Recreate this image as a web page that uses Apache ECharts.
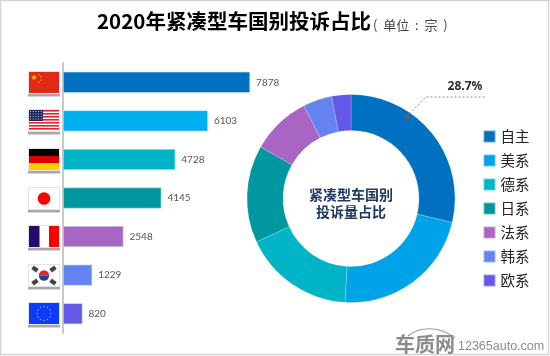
<!DOCTYPE html>
<html><head><meta charset="utf-8">
<style>html,body{margin:0;padding:0;background:#fff}#c{width:550px;height:356px}</style>
<script src="https://cdn.jsdelivr.net/npm/echarts@6/dist/echarts.min.js"></script>
</head><body><div id="c"></div>
<script>
const categories = ['自主','美系','德系','日系','法系','韩系','欧系'];
const values = [7878,6103,4728,4145,2548,1229,820];
const colors = ['#0070c0','#00b0f0','#00b4c8','#0097a0','#a965c4','#6482f0','#6459e6'];
const pieColors = ['#0070c0','#00a3e8','#00b4c8','#0097a0','#a965c4','#6482f0','#6459e6'];
const cjk = '"Noto Sans CJK SC"';
const FX = 29, FW = 30, FH = 21, rowH = 270/7, top0 = 63;

function rect(x,y,w,h,fill,extra){return Object.assign({type:'rect',shape:{x,y,width:w,height:h},style:{fill}},extra||{});}
function circ(cx,cy,r,fill){return {type:'circle',shape:{cx,cy,r},style:{fill}};}
function flag(i, parts){
  const y = Math.round(top0 + rowH*i + rowH/2 - FH/2);
  return {type:'group',x:FX,y:y,silent:true,children:[
    rect(-1,2,FW+2,FH+1.5,'#a8a8a8'),
    rect(-1,-1,FW+2,FH+2,'#e4e4e4'),
  ].concat(parts)};
}
const star = (x,y,r,fill)=>({type:'polygon',shape:{points:[0,1,2,3,4,5,6,7,8,9].map(k=>{const a=-Math.PI/2+k*Math.PI/5,q=k%2?r*0.42:r;return [x+q*Math.cos(a),y+q*Math.sin(a)];})},style:{fill}});
const us = [rect(0,0,FW,FH,'#fff')];
for(let k=0;k<7;k++) us.push(rect(0,k*3,FW,1.6,'#e8222c'));
us.push(rect(0,0,14,11,'#23235f'));
for(let r=0;r<4;r++)for(let c=0;c<5;c++) us.push(rect(1+c*2.7,1+r*2.5,1,1,'#c9c9e4'));
const eu=[rect(0,0,FW,FH,'#0a3cff')];
for(let k=0;k<12;k++){const a=k*Math.PI/6;eu.push(circ(FW/2+7*Math.cos(a),FH/2+7*Math.sin(a),.8,'#b9a94a'));}
const krBars=[[6,4,-.6],[24,4,.6],[6,17,.6],[24,17,-.6]].map(([x,y,rot])=>({type:'rect',shape:{x:-3,y:-2.2,width:6,height:4.4},x,y,rotation:rot,style:{fill:'#444'}}));
const flags = [
  flag(0,[rect(0,0,FW,FH,'#de2a16'),star(5,5.5,3,'#ffd400'),star(10,2.5,1,'#ffd400'),star(12,5,1,'#ffd400'),star(12,8,1,'#ffd400'),star(10,10,1,'#ffd400')]),
  flag(1,us),
  flag(2,[rect(0,0,FW,7,'#000'),rect(0,7,FW,7,'#e00000'),rect(0,14,FW,7,'#ffce00')]),
  flag(3,[rect(0,0,FW,FH,'#fff'),circ(FW/2,FH/2,6.3,'#ff0000')]),
  flag(4,[rect(0,0,FW,FH,'#fff'),rect(0,0,10.5,FH,'#220a6e'),rect(20,0,10,FH,'#ff0000')]),
  flag(5,[rect(0,0,FW,FH,'#fff')].concat(krBars,[
    {type:'sector',shape:{cx:15,cy:10.5,r:5.2,r0:0,startAngle:Math.PI,endAngle:Math.PI*2},style:{fill:'#d9252c'}},
    {type:'sector',shape:{cx:15,cy:10.5,r:5.2,r0:0,startAngle:0,endAngle:Math.PI},style:{fill:'#1d3f9e'}}])),
  flag(6,eu)
];

const chart = echarts.init(document.getElementById('c'),null,{renderer:'canvas'});
chart.setOption({
  animation:false,
  backgroundColor:'#fff',
  title:[{text:'2020年紧凑型车国别投诉占比',left:97,top:11,textStyle:{fontFamily:cjk,fontSize:20.5,fontWeight:'bold',color:'#000'},padding:0},
         {text:'(  单位  :  宗  )',left:373,top:19,textStyle:{fontFamily:cjk,fontSize:13,fontWeight:'normal',color:'#444'},padding:0}],
  grid:{left:63,top:63,width:190,height:270,containLabel:false},
  xAxis:{type:'value',min:0,max:8000,show:false},
  yAxis:{type:'category',inverse:true,data:categories,axisTick:{show:false},axisLabel:{show:false},
         axisLine:{show:true,lineStyle:{color:'#c8c8c8',width:2}}},
  legend:{orient:'vertical',left:482.5,top:129,padding:0,itemWidth:12,itemHeight:12,itemGap:9,icon:'rect',data:categories,
          textStyle:{fontFamily:cjk,fontSize:14.5,color:'#222',padding:0,lineHeight:15},selectedMode:false},
  series:[
    {type:'bar',barWidth:21,data:values.map((v,i)=>({value:v,name:categories[i],itemStyle:{color:colors[i],borderColor:'#cfeaf3',borderWidth:.6}})),
     legendHoverLink:false,
     label:{show:true,position:'right',distance:6,fontFamily:'Lato',fontSize:10,color:'#555'}},
    {type:'pie',center:[351,198.5],radius:[68,104],startAngle:90,clockwise:true,
     label:{show:false},labelLine:{show:false},
     itemStyle:{borderColor:'rgba(255,255,255,.4)',borderWidth:.5},
     data:values.map((v,i)=>({value:v,name:categories[i],itemStyle:{color:pieColors[i]}}))}
  ],
  graphic:[
    {type:'rect',shape:{x:.5,y:.5,width:548,height:354},style:{fill:'none',stroke:'#d4d4d4',lineWidth:1.5},silent:true}
  ].concat(flags,[
    {type:'polyline',shape:{points:[[407,116.7],[425.7,97],[485,97]]},style:{fill:'none',stroke:'#8a8a8a',lineWidth:1,lineDash:[2,2]},z:10},
    {type:'circle',shape:{cx:407,cy:116.7,r:2.6},style:{fill:'#566573'},z:10},
    {type:'text',x:465,y:87,style:{text:'28.7%',fontFamily:'"Noto Sans"',fontWeight:'bold',fontSize:12,fill:'#2b2b2b',align:'center',verticalAlign:'middle'},z:10},
    {type:'text',x:351,y:203,style:{text:'紧凑型车国别\n投诉量占比',fontFamily:cjk,fontWeight:'bold',fontSize:14,lineHeight:16.5,fill:'#1f3864',align:'center',verticalAlign:'middle'},z:10},
    {type:'text',x:395,y:344,style:{text:'车质网',fontFamily:cjk,fontWeight:'bold',fontSize:20,fill:'#8c8c8c',align:'left',verticalAlign:'middle'},z:10},
    {type:'bezierCurve',shape:{x1:408,y1:336,x2:455,y2:338,cpx1:420,cpy1:326,cpx2:440,cpy2:326},style:{fill:'none',stroke:'#9a9a9a',lineWidth:1.2},z:10},
    {type:'text',x:458,y:347,style:{text:'12365auto.com',fontFamily:'"Liberation Sans"',fontSize:12.5,fill:'#8c8c8c',align:'left',verticalAlign:'middle'},z:10}
  ])
});
</script></body></html>
